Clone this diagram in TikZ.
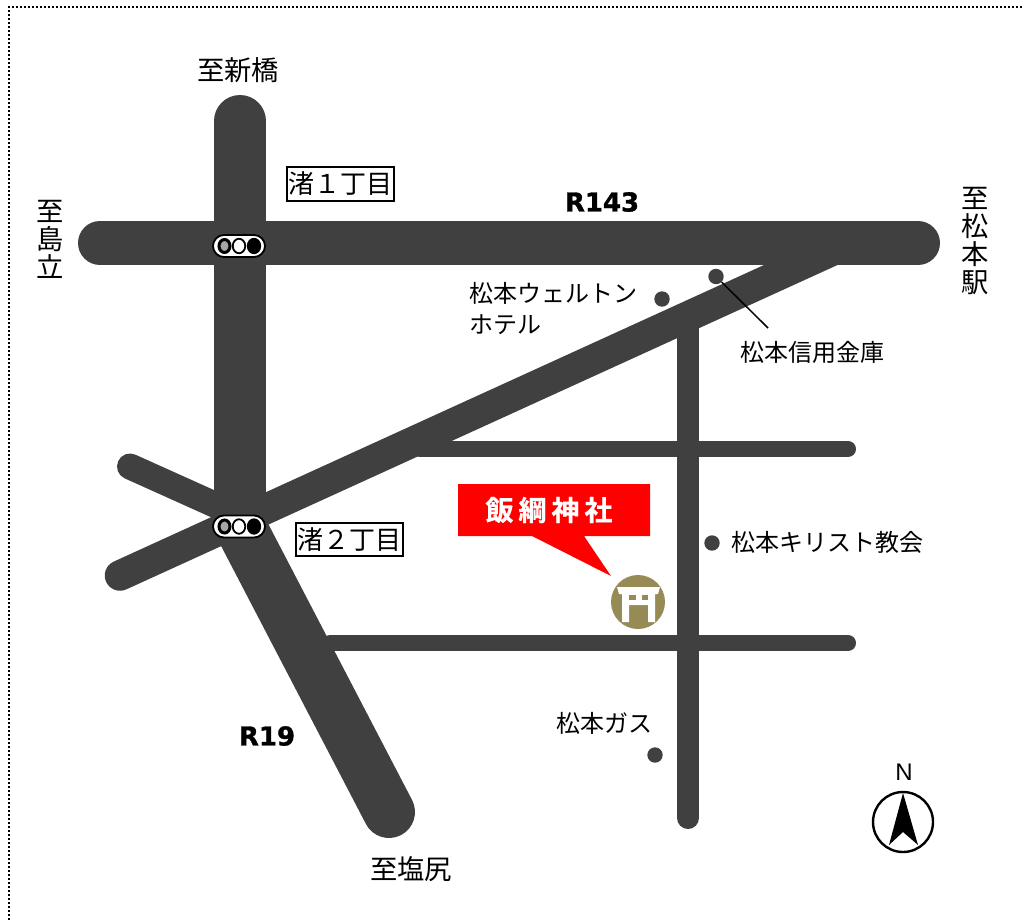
\documentclass[tikz,border=0pt]{standalone}
\usepackage{fontspec}
\usetikzlibrary{shapes.geometric,patterns}
\setmainfont{Liberation Sans}
\newfontfamily\jp{Noto Sans CJK JP}
\newfontfamily\jpb[FakeBold=0.6]{Noto Sans CJK JP Bold}
\newfontfamily\heavy[FakeBold=1.2]{DejaVu Sans Bold}
\begin{document}
\begin{tikzpicture}[x=1pt,y=-1pt,
  road/.style={draw=roadc,line cap=round},
  lbl/.style={inner sep=0pt,font=\jp\fontsize{24}{30}\selectfont,anchor=west},
  big/.style={inner sep=0pt,font=\jp\fontsize{27.3}{28}\selectfont,align=center},
  rname/.style={inner sep=0pt,font=\heavy\fontsize{26}{26}\selectfont},
  dotm/.style={circle,fill=roadc,minimum size=15.4pt,inner sep=0pt},
  place/.style={draw=black,line width=2pt,inner sep=0pt,minimum height=33pt,font=\jp\fontsize{26}{27}\selectfont},
  sigbox/.style={draw=black,fill=white,line width=1.8pt,rounded corners=11pt,minimum width=52pt,minimum height=22pt,inner sep=0pt},
  lamp/.style={ellipse,minimum width=12.5pt,minimum height=14.5pt,inner sep=0pt,line width=1.8pt,draw=black}]
\definecolor{roadc}{HTML}{404040}
\definecolor{torii}{HTML}{968A55}
\useasboundingbox (0,0) rectangle (1024,920);
% page border
\coordinate (b1) at (9,920); \coordinate (b2) at (9,7); \coordinate (b3) at (1024,7);
\draw[line width=1.6pt,dash pattern=on 2pt off 2pt] (b1) -- (b2) -- (b3);
% road end points
\coordinate (vt) at (240,121); \coordinate (j2) at (240,526);
\coordinate (hl) at (100,243); \coordinate (hr) at (918,243);
\coordinate (dl) at (120,575.5); \coordinate (dr) at (849,243);
\coordinate (sl) at (130,466.5); \coordinate (sr) at (240,516);
\coordinate (se) at (389,812);
\coordinate (ct) at (688,320); \coordinate (cb) at (688,818);
\coordinate (a1) at (420,449); \coordinate (a2) at (848,449);
\coordinate (c1) at (330,643); \coordinate (c2) at (848,643);
% roads
\draw[road,line width=22pt] (ct) -- (cb);
\draw[road,line width=16pt] (a1) -- (a2);
\draw[road,line width=16pt] (c1) -- (c2);
\draw[road,line width=26pt] (sl) -- (sr);
\draw[road,line width=52pt] (vt) -- (j2);
\draw[road,line width=52pt] (j2) -- (se);
\draw[road,line width=30.5pt] (dl) -- (dr);
\draw[road,line width=44pt] (hl) -- (hr);
% signals
\foreach \n/\y in {s/246,t/526.5}{
  \node[sigbox] (\n box) at (239,\y) {};
  \node[lamp,fill=gray!70,line width=3pt,minimum width=11pt,minimum height=13pt] (\n a) at (224.5,\y) {};
  \node[lamp,fill=white] (\n b) at (239,\y) {};
  \node[lamp,fill=black] (\n d) at (254,\y) {};
}
% direction labels
\node[big] (n1) at (238,70) {至新橋};
\node[big] (n2) at (411,869) {至塩尻};
\node[big,text width=27.3pt] (n3) at (50,239) {至\\島\\立};
\node[big,text width=27.3pt] (n4) at (975,241) {至\\松\\本\\駅};
\node[place,minimum width=107pt] (p1) at (340,184) {渚１丁目};
\node[place,minimum width=107pt] (p2) at (349,539.5) {渚２丁目};
\node[rname] (r1) at (602,202) {R143};
\node[rname] (r2) at (267,736) {R19};
% landmarks
\node[dotm] (d1) at (716,276.5) {};
\node[dotm] (d2) at (662,299) {};
\node[dotm] (d3) at (712,543) {};
\node[dotm] (d4) at (655,755) {};
\coordinate (le) at (768,328);
\draw[line width=1.5pt] (d1) -- (le);
\node[lbl] (l1) at (469,293) {松本ウェルトン};
\node[lbl] (l2) at (469,325) {ホテル};
\node[lbl] (l3) at (740,352) {松本信用金庫};
\node[lbl] (l4) at (731,542) {松本キリスト教会};
\node[lbl] (l5) at (556,723) {松本ガス};
% callout
\fill[red] (458,484) -- (650,484) -- (650,536) -- (584,536) -- (611,576) -- (532,536) -- (458,536) -- cycle;
\node[inner sep=0pt,text=white,font=\jpb\fontsize{28}{28}\selectfont] (sh) at (549,510) {飯\hspace{5pt}綱\hspace{5pt}神\hspace{5pt}社};
% torii
\node[circle,fill=torii,minimum size=54pt,inner sep=0pt] (tc) at (638,602) {};
\fill[white] (617,587) -- (660,587) -- (658,594) -- (655,594) -- (655,622) -- (648,622) -- (648,605) -- (629,605) -- (629,622) -- (622,622) -- (622,594) -- (619,594) -- cycle;
\fill[torii] (629,594.5) rectangle (635.5,600);
\fill[torii] (641.5,594.5) rectangle (648,600);
% compass
\node[inner sep=0pt,font=\fontsize{24}{24}\selectfont] (nn) at (904,772) {N};
\node[circle,draw=black,line width=2.4pt,minimum size=60pt,inner sep=0pt] (cc) at (903,822) {};
\fill[black] (903,793) -- (918,845) -- (903,832) -- (889,845) -- cycle;
\end{tikzpicture}
\end{document}
